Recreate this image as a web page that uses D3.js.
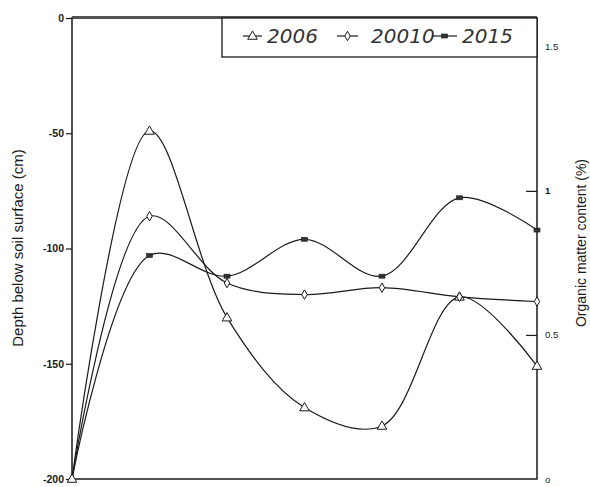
<!DOCTYPE html>
<html>
<head>
<meta charset="utf-8">
<script src="https://cdn.jsdelivr.net/npm/d3@7"></script>
<style>
  body { margin: 0; background: #fff; }
  svg { display: block; }
</style>
</head>
<body>
<div id="chart"></div>
<script>
// Sample positions (no labels on the horizontal axis)
const positions = [0, 1, 2, 3, 4, 5, 6];

// Values read on the depth axis (cm)
const series2006 = [-200, -49, -130, -169, -177, -121, -151];
const series2010 = [-200, -86, -115, -120, -117, -121, -123];
const series2015 = [-200, -103, -112, -96, -112, -78, -92];

const leftTicks = [0, -50, -100, -150, -200];
const rightTicks = [0, 0.5, 1, 1.5];

const seriesList = [
    { name: '2006', label: '2006', values: series2006, marker: 'triangle' },
    { name: '2010', label: '20010', values: series2010, marker: 'diamond' },
    { name: '2015', label: '2015', values: series2015, marker: 'square' }
];

const width = 590, height = 487;
const plotLeft = 72, plotRight = 537, plotTop = 18, plotBottom = 479;
const ink = '#1a1a1a';

const svg = d3.select('#chart')
    .append('svg')
    .attr('width', width)
    .attr('height', height);

const x = d3.scalePoint()
    .domain(positions)
    .range([plotLeft, plotRight]);

const yDepth = d3.scaleLinear()
    .domain([-200, 0])
    .range([plotBottom, plotTop]);

const yOrganic = d3.scaleLinear()
    .domain([0, 1.6])
    .range([plotBottom, plotTop]);

// Left axis
const leftAxis = svg.append('g')
    .attr('transform', `translate(${plotLeft},0)`)
    .call(d3.axisLeft(yDepth).tickValues(leftTicks).tickSize(6).tickPadding(2).tickFormat(d3.format('d')));
leftAxis.select('.domain').remove();
leftAxis.selectAll('line').attr('stroke', ink).attr('stroke-width', 1.2);
leftAxis.selectAll('text')
    .attr('fill', ink)
    .attr('font-family', 'Liberation Sans, Arial, sans-serif')
    .attr('font-weight', 'bold')
    .attr('font-size', '10.5px')
    .text(d => d === 0 ? '0' : '-' + Math.abs(d));

// Right axis, ticks point inward
const rightAxis = svg.append('g')
    .attr('transform', `translate(${plotRight},0)`)
    .call(d3.axisRight(yOrganic).tickValues(rightTicks).tickSize(0).tickPadding(8).tickFormat(d => d === 0 ? 'o' : String(d)));
rightAxis.select('.domain').remove();
rightAxis.selectAll('.tick line')
    .attr('x1', -11).attr('x2', 0)
    .attr('stroke', ink).attr('stroke-width', 1.2);
rightAxis.selectAll('.tick').filter(d => d === 0).select('line').remove();
rightAxis.selectAll('text')
    .attr('fill', ink)
    .attr('font-family', 'Liberation Sans, Arial, sans-serif')
    .attr('font-size', '9.5px')
    .attr('font-weight', d => d === 1 ? 'bold' : 'normal');

// Frame
svg.append('rect')
    .attr('x', plotLeft).attr('y', plotTop)
    .attr('width', plotRight - plotLeft).attr('height', plotBottom - plotTop)
    .attr('fill', 'none')
    .attr('stroke', ink)
    .attr('stroke-width', 1.5);
svg.append('line')
    .attr('x1', plotLeft).attr('x2', plotRight)
    .attr('y1', plotTop - 1.5).attr('y2', plotTop - 1.5)
    .attr('stroke', '#555').attr('stroke-width', 1);

// Axis titles
svg.append('text')
    .attr('transform', 'translate(23,248) rotate(-90)')
    .attr('text-anchor', 'middle')
    .attr('font-family', 'Liberation Sans, Arial, sans-serif')
    .attr('font-size', '15px')
    .attr('fill', ink)
    .text('Depth below soil surface (cm)');

svg.append('text')
    .attr('transform', 'translate(586,243) rotate(-90)')
    .attr('text-anchor', 'middle')
    .attr('font-family', 'Liberation Sans, Arial, sans-serif')
    .attr('font-size', '14px')
    .attr('fill', ink)
    .text('Organic matter content (%)');

// Lines
const line = d3.line()
    .x((d, i) => x(positions[i]))
    .y(d => yDepth(d))
    .curve(d3.curveCatmullRom.alpha(0.5));

const plot = svg.append('g');

seriesList.forEach(s => {
    plot.append('path')
        .datum(s.values)
        .attr('d', line)
        .attr('fill', 'none')
        .attr('stroke', ink)
        .attr('stroke-width', 1.2);
});

function drawMarker(g, type, cx, cy) {
    if (type === 'triangle') {
        g.append('path')
            .attr('d', d3.symbol().type(d3.symbolTriangle).size(40)())
            .attr('transform', `translate(${cx},${cy + 0.5})`)
            .attr('fill', '#fff').attr('stroke', ink).attr('stroke-width', 1);
    } else if (type === 'diamond') {
        g.append('path')
            .attr('d', d3.symbol().type(d3.symbolDiamond).size(26)())
            .attr('transform', `translate(${cx},${cy})`)
            .attr('fill', '#fff').attr('stroke', ink).attr('stroke-width', 1);
    } else {
        g.append('rect')
            .attr('x', cx - 3).attr('y', cy - 2)
            .attr('width', 6).attr('height', 4)
            .attr('fill', '#333').attr('stroke', ink).attr('stroke-width', 0.6);
    }
}

seriesList.forEach(s => {
    s.values.forEach((v, i) => {
        if (i === 0 && s.marker !== 'triangle') return;
        drawMarker(plot, s.marker, x(positions[i]), yDepth(v));
    });
});

// Legend
const legend = svg.append('g');
legend.append('rect')
    .attr('x', 222).attr('y', plotTop)
    .attr('width', plotRight - 222).attr('height', 39)
    .attr('fill', '#fff')
    .attr('stroke', ink)
    .attr('stroke-width', 1.3);

const legendItems = [
    { s: seriesList[0], x1: 243, x2: 262, tx: 267 },
    { s: seriesList[1], x1: 337, x2: 358, tx: 371 },
    { s: seriesList[2], x1: 432, x2: 457, tx: 462 }
];
const legendY = 36;
legendItems.forEach(it => {
    legend.append('line')
        .attr('x1', it.x1).attr('x2', it.x2)
        .attr('y1', legendY).attr('y2', legendY)
        .attr('stroke', ink).attr('stroke-width', 1.2);
    drawMarker(legend, it.s.marker, (it.x1 + it.x2) / 2, legendY);
    legend.append('text')
        .attr('x', it.tx).attr('y', legendY + 7)
        .attr('font-family', 'DejaVu Sans, sans-serif')
        .attr('font-style', 'italic')
        .attr('font-weight', 200)
        .attr('font-size', '20px')
        .attr('fill', '#333')
        .text(it.s.label);
});
</script>
</body>
</html>
